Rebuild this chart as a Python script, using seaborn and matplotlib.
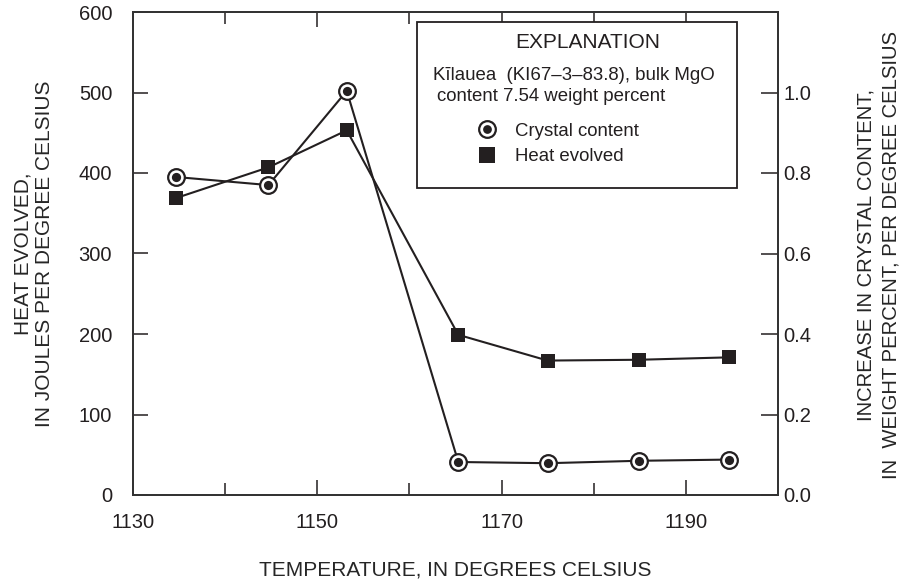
import matplotlib
matplotlib.use("Agg")
import matplotlib.pyplot as plt
import seaborn as sns
import pandas as pd
from matplotlib.lines import Line2D
from matplotlib.patches import Rectangle
from matplotlib.ticker import FixedLocator

# ---- data ----
temperature = [1134.7, 1144.7, 1153.2, 1165.3, 1175.0, 1184.9, 1194.7]
heat_evolved = [369, 407, 453, 199, 167, 168, 171]
crystal_content = [0.79, 0.77, 1.004, 0.082, 0.079, 0.085, 0.088]
x_major_ticks = [1130, 1150, 1170, 1190]
x_minor_ticks = [1140, 1160, 1180]
left_ticks = [0, 100, 200, 300, 400, 500, 600]
right_ticks = [0.0, 0.2, 0.4, 0.6, 0.8, 1.0]
right_tick_labels = ["0.0", "0.2", "0.4", "0.6", "0.8", "1.0"]

df = pd.DataFrame({"temperature": temperature,
                   "heat": heat_evolved,
                   "crystal": crystal_content})

sns.set_theme(style="ticks")
plt.rcParams['font.family'] = ['Liberation Sans', 'DejaVu Sans']
ink = "#231f20"
plt.rcParams['text.color'] = ink
plt.rcParams['xtick.color'] = ink
plt.rcParams['ytick.color'] = ink

fig = plt.figure(figsize=(9.02, 5.83), dpi=100)
ax = fig.add_axes([133/902, 1-495/583, 645/902, 483/583])
ax2 = ax.twinx()

sns.lineplot(data=df, x="temperature", y="heat", ax=ax, color=ink, lw=1.5,
             marker="s", markersize=10, markeredgewidth=0, markerfacecolor=ink)
sns.lineplot(data=df, x="temperature", y="crystal", ax=ax2, color=ink, lw=1.5,
             marker="o", markersize=12, markerfacecolor="white",
             markeredgecolor=ink, markeredgewidth=1.6)
sns.scatterplot(data=df, x="temperature", y="crystal", ax=ax2, color=ink,
                s=44, linewidth=0, zorder=5)

ax.set_xlim(1130, 1200)
ax.set_ylim(0, 600)
ax2.set_ylim(0, 1.2)

ax.xaxis.set_major_locator(FixedLocator(x_major_ticks))
ax.xaxis.set_minor_locator(FixedLocator(x_minor_ticks))
ax.set_yticks(left_ticks)
ax2.set_yticks(right_ticks)
ax2.set_yticklabels(right_tick_labels)

ax.tick_params(axis="x", which="major", direction="in", length=11, width=1.1,
               top=True, labelsize=14.5, pad=13)
ax.tick_params(axis="x", which="minor", direction="in", length=8.5, width=1.1,
               top=True)
ax.tick_params(axis="y", which="major", direction="in", length=11, width=1.1,
               labelsize=14.5, pad=15)
ax2.tick_params(axis="y", which="major", direction="in", length=12, width=1.1,
                labelsize=14.5, pad=4)

for a in (ax, ax2):
    for s in a.spines.values():
        s.set_linewidth(1.3)
        s.set_color("#333333")
        s.set_visible(True)

ax.set_xlabel("TEMPERATURE, IN DEGREES CELSIUS", fontsize=15)
ax.xaxis.set_label_coords(0.5, -0.135)
ax.set_ylabel("HEAT EVOLVED,\nIN JOULES PER DEGREE CELSIUS", fontsize=15,
              linespacing=1.2)
ax.yaxis.set_label_coords(-0.122, 0.5)
ax2.set_ylabel("INCREASE IN CRYSTAL CONTENT,\nIN  WEIGHT PERCENT, PER DEGREE CELSIUS",
               fontsize=14.6, linespacing=1.4)
ax2.yaxis.set_label_coords(1.121, 0.496)

# explanation box
box = Rectangle((0.440, 0.636), 0.496, 0.343, transform=ax.transAxes,
                fill=True, facecolor="white", edgecolor=ink, lw=1.3, zorder=10)
ax2.add_patch(box)
ax2.text(0.705, 0.937, "EXPLANATION", transform=ax.transAxes, fontsize=15,
         ha="center", va="center", zorder=11)
ax2.text(0.465, 0.868, "Kīlauea  (KI67–3–83.8), bulk MgO", transform=ax.transAxes,
         fontsize=13.4, ha="left", va="center", zorder=11)
ax2.text(0.471, 0.825, "content 7.54 weight percent", transform=ax.transAxes,
         fontsize=13.4, ha="left", va="center", zorder=11)

h_circle = (Line2D([], [], ls="none", marker="o", ms=12, mfc="white", mec=ink, mew=1.6),
            Line2D([], [], ls="none", marker="o", ms=6.3, mfc=ink, mec=ink, mew=0))
h_square = Line2D([], [], ls="none", marker="s", ms=12, mfc=ink, mec=ink, mew=0)
leg = ax2.legend([h_circle, h_square], ["Crystal content", "Heat evolved"],
                 loc="upper left", bbox_to_anchor=(0.535, 0.771),
                 frameon=False, fontsize=13.4, handlelength=1.0,
                 handletextpad=1.0, labelspacing=0.45, borderpad=0,
                 borderaxespad=0)
leg.set_zorder(12)

fig.savefig("out.png", dpi=100)
